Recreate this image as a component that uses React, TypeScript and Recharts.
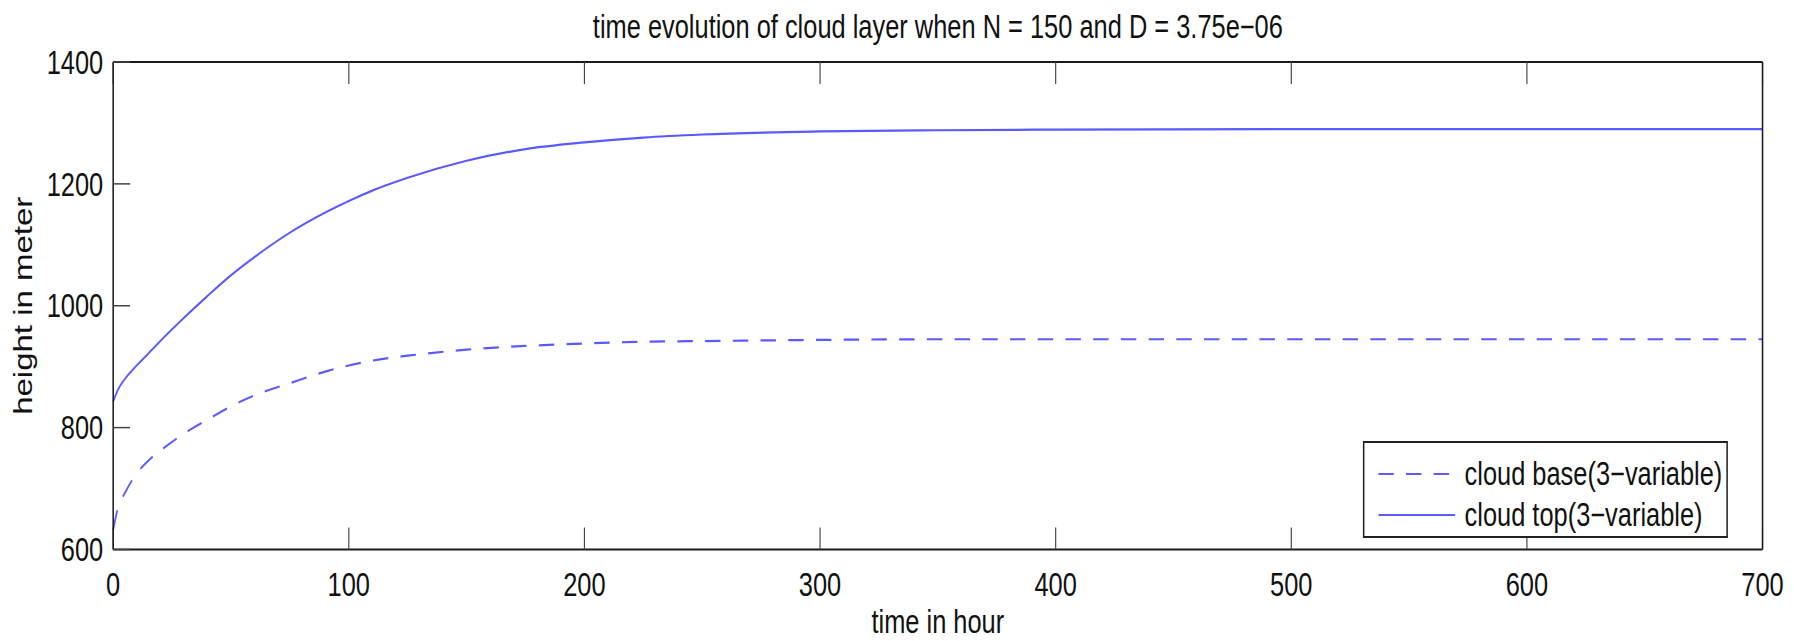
import { Legend, Line, LineChart, XAxis, YAxis } from "recharts";

// hours since start
const hours = [0, 2, 5, 10, 15, 20, 30, 40, 50, 60, 75, 90, 100, 110, 125, 150, 175, 200, 225, 250, 300, 350, 400, 500, 600, 700];
// cloud base height (m)
const cloudBase = [632, 668, 693, 725, 746, 762, 790, 813, 835, 853, 873, 892, 902, 910, 918, 928, 934, 938, 941, 942, 944, 945, 945, 945, 945, 945];
// cloud top height (m)
const cloudTop = [843, 862, 880, 902, 922, 942, 980, 1016, 1050, 1080, 1120, 1153, 1172, 1189, 1210, 1238, 1257, 1268, 1276, 1281, 1286, 1288, 1289, 1290, 1290, 1290];

const hourTicks = [0, 100, 200, 300, 400, 500, 600, 700];
const heightTicks = [600, 800, 1000, 1200, 1400];

const data = hours.map((hour, i) => ({
  hour,
  base: cloudBase[i],
  top: cloudTop[i],
}));

// the figure is drawn wide and squeezed horizontally, like the exported plot
const W = 2330;
const H = 641;
const SQUEEZE = 0.77;
const FONT = '"Liberation Sans", Arial, Helvetica, sans-serif';
const INK = "#111111";
const BLUE = "#5a5aff";
const FS = 33;

const axisLine = { stroke: "#1a1a1a", strokeWidth: 2 };
const tickLine = { stroke: "#444444", strokeWidth: 1.5 };
const blank = () => "";

function HeightLabel({ viewBox }: { viewBox?: unknown }) {
  const vb = viewBox as { x: number; y: number; height: number };
  const cx = vb.x + 30;
  const cy = vb.y + vb.height / 2;
  return (
    <text
      x={cx}
      y={cy}
      transform={`rotate(-90 ${cx} ${cy})`}
      textAnchor="middle"
      dominantBaseline="central"
      fill={INK}
      fontSize={FS}
      fontFamily={FONT}
    >
      height in meter
    </text>
  );
}

function CloudLegend({ payload }: { payload?: any[] }) {
  return (
    <div
      style={{
        boxSizing: "border-box",
        width: "100%",
        height: "100%",
        border: "2px solid #222",
        background: "#fff",
        paddingTop: 10,
        paddingLeft: 18,
      }}
    >
      {(payload ?? []).map((entry) => (
        <div
          key={entry.value}
          style={{ display: "flex", alignItems: "center", height: 41 }}
        >
          <svg width={100} height={10}>
            <line
              x1={0}
              y1={5}
              x2={100}
              y2={5}
              stroke={entry.color}
              strokeWidth={2}
              strokeDasharray={entry.payload?.strokeDasharray}
            />
          </svg>
          <span
            style={{
              marginLeft: 12,
              fontSize: FS,
              lineHeight: "41px",
              color: INK,
              fontFamily: FONT,
              whiteSpace: "nowrap",
            }}
          >
            {entry.value}
          </span>
        </div>
      ))}
    </div>
  );
}

export default function App() {
  return (
    <div
      style={{
        position: "absolute",
        left: 0,
        top: 0,
        width: 1794,
        height: H,
        overflow: "hidden",
        background: "#fff",
      }}
    >
      <div
        style={{
          position: "relative",
          width: W,
          height: H,
          transform: `scaleX(${SQUEEZE})`,
          transformOrigin: "0 0",
          fontFamily: FONT,
        }}
      >
        <div
          style={{
            position: "absolute",
            left: 147,
            width: 2142,
            top: 10,
            textAlign: "center",
            fontSize: FS,
            lineHeight: `${FS}px`,
            color: INK,
            whiteSpace: "nowrap",
          }}
        >
          time evolution of cloud layer when N = 150 and D = 3.75e−06
        </div>
        <LineChart
          width={W}
          height={H}
          data={data}
          margin={{ top: 52, right: 31, bottom: 0, left: 0 }}
        >
          <XAxis
            xAxisId="bottom"
            dataKey="hour"
            type="number"
            domain={[0, 700]}
            ticks={hourTicks}
            height={91.5}
            axisLine={axisLine}
            tickLine={tickLine}
            tickSize={-22}
            tickMargin={45}
            tick={{ fill: INK, fontSize: FS, fontFamily: FONT }}
            label={{
              value: "time in hour",
              position: "insideBottom",
              offset: 8,
              fill: INK,
              fontSize: FS,
              fontFamily: FONT,
            }}
          />
          <XAxis
            xAxisId="top"
            orientation="top"
            dataKey="hour"
            type="number"
            domain={[0, 700]}
            ticks={hourTicks}
            height={10}
            axisLine={axisLine}
            tickLine={tickLine}
            tickSize={-22}
            tickFormatter={blank}
          />
          <YAxis
            yAxisId="left"
            type="number"
            domain={[600, 1400]}
            ticks={heightTicks}
            width={147}
            axisLine={axisLine}
            tickLine={tickLine}
            tickSize={-22}
            tickMargin={35}
            tick={{ fill: INK, fontSize: FS, fontFamily: FONT }}
            label={{ content: (props: any) => <HeightLabel viewBox={props.viewBox} /> }}
          />
          <YAxis
            yAxisId="right"
            orientation="right"
            type="number"
            domain={[600, 1400]}
            ticks={heightTicks}
            width={10}
            axisLine={axisLine}
            tickLine={tickLine}
            tickSize={-22}
            tickFormatter={blank}
          />
          <Legend
            layout="horizontal"
            verticalAlign="middle"
            content={(props: any) => <CloudLegend payload={props.payload} />}
            wrapperStyle={{ left: 1770, top: 441, width: 474, height: 97 }}
          />
          <Line
            xAxisId="bottom"
            yAxisId="left"
            dataKey="base"
            name="cloud base(3−variable)"
            type="monotone"
            stroke={BLUE}
            strokeWidth={2.2}
            strokeDasharray="20 16"
            dot={false}
            activeDot={false}
            isAnimationActive={false}
          />
          <Line
            xAxisId="bottom"
            yAxisId="left"
            dataKey="top"
            name="cloud top(3−variable)"
            type="monotone"
            stroke={BLUE}
            strokeWidth={2.2}
            dot={false}
            activeDot={false}
            isAnimationActive={false}
          />
        </LineChart>
      </div>
    </div>
  );
}
